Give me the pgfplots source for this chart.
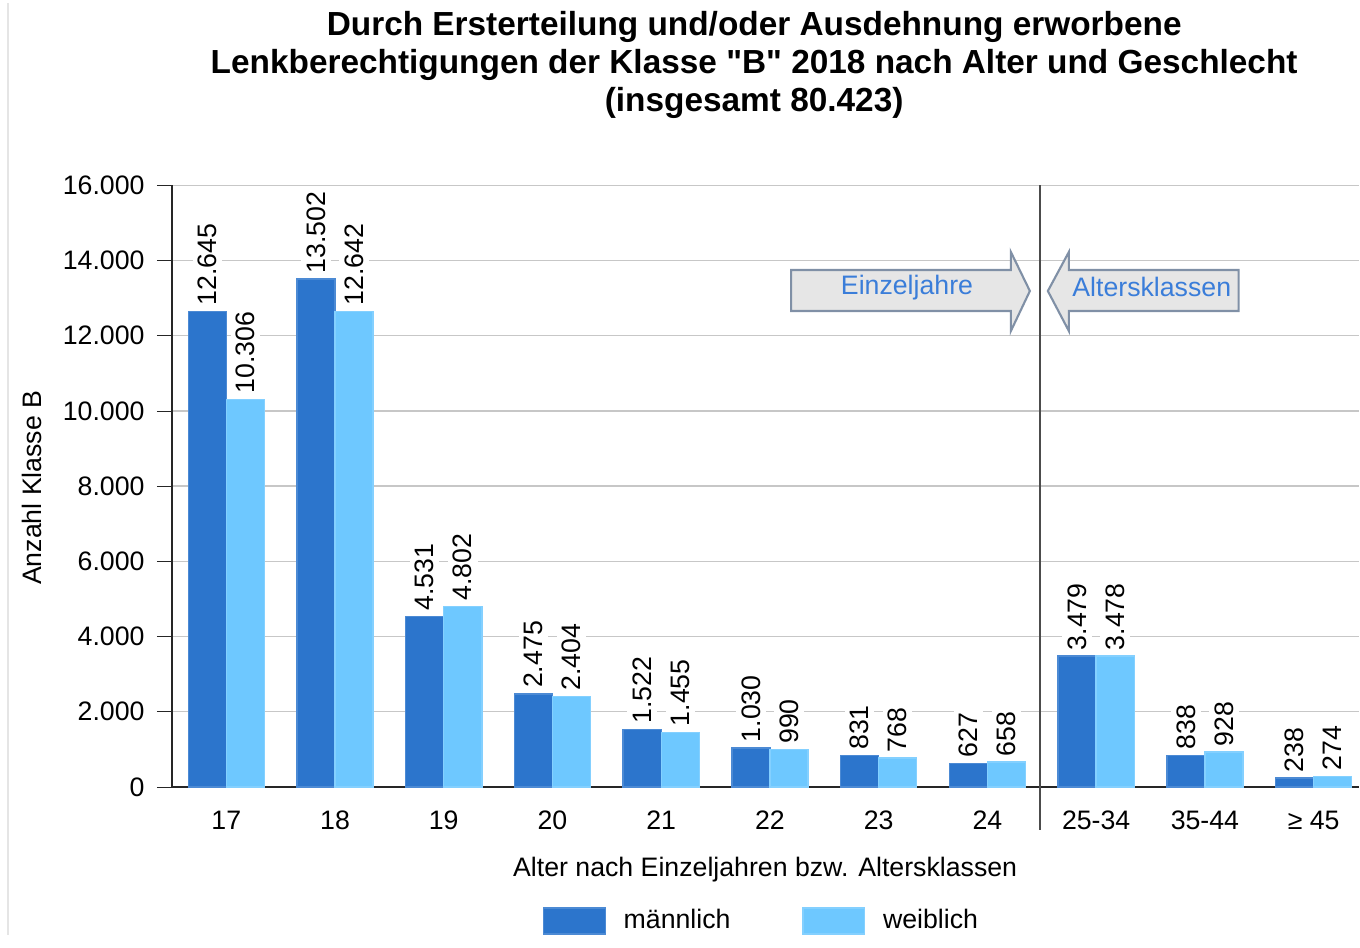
\documentclass[border=0pt]{standalone}
\usepackage{fontspec}
\setmainfont{Liberation Sans}
\newfontfamily\qf{Liberation Sans}
\usepackage{pgfplots}
\pgfplotsset{compat=1.18}
\definecolor{mblue}{RGB}{44,117,204}
\definecolor{wblue}{RGB}{110,200,255}
\definecolor{arrfill}{RGB}{230,230,230}
\definecolor{arrdraw}{RGB}{128,144,166}
\definecolor{arrtext}{RGB}{58,125,217}
\newcommand{\tf}{\fontsize{7.6}{9}\selectfont}

\begin{document}
\begin{tikzpicture}
% pixel frame of the reference (1360 x 933), origin of axis box at (172,784)
\begin{scope}[x=0.01cm, y=-0.01cm, shift={(-1.72cm,7.84cm)}]
  \path[use as bounding box] (0,0) rectangle (1360,933);
\end{scope}

\begin{axis}[
    at={(0,0)}, anchor=south west,
    scale only axis,
    width=11.88cm, height=6.02cm,
    ybar=0pt,
    bar width=0.35,
    xmin=-0.5, xmax=10.42,
    ymin=0, ymax=16000,
    enlargelimits=false,
    clip=false,
    axis x line*=bottom,
    axis y line*=left,
    axis line style={black!85, -},
    xtick={0,...,10},
    xticklabels={17,18,19,20,21,22,23,24,25-34,35-44,≥ 45},
    ytick={0,2000,...,16000},
    scaled y ticks=false,
    yticklabel style={/pgf/number format/.cd, fixed, precision=0, 1000 sep={.}, assume math mode=true},
    xticklabel style={yshift=0.03cm},
    x tick style={draw=none},
    y tick style={black!85},
    tick align=outside,
    major tick length=0.15cm,
    tick label style={font=\tf},
    ymajorgrids,
    grid style={black!22},
    nodes near coords={\pgfmathprintnumber[fixed,precision=0,1000 sep={.},assume math mode=true]{\pgfplotspointmeta}},
    every node near coord/.append style={font=\tf, rotate=90, anchor=west, fill=white, inner sep=1.5pt},
    legend columns=2,
    legend style={at={(0.503,-0.223)}, anchor=center, draw=none, font=\tf,
      /tikz/every even column/.append style={column sep=0.54cm},
      nodes={inner xsep=5pt}},
    legend image code/.code={\fill[#1] (0cm,-0.13cm) rectangle (0.62cm,0.13cm);},
]
\addplot[fill=mblue, draw=mblue!85!white] coordinates {
  (0,12645) (1,13502) (2,4531) (3,2475) (4,1522) (5,1030) (6,831) (7,627) (8,3479) (9,838) (10,238)};
\addlegendentry{männlich}
\addplot[fill=wblue, draw=wblue!85!white] coordinates {
  (0,10306) (1,12642) (2,4802) (3,2404) (4,1455) (5,990) (6,768) (7,658) (8,3478) (9,928) (10,274)};
\addlegendentry{weiblich}
\end{axis}

\begin{scope}[x=0.01cm, y=-0.01cm, shift={(-1.72cm,7.84cm)}]
  % faint frame line on the left
  \draw[black!10] (8,0) -- (8,933);
  % separator between single years and age classes
  \draw[black!70] (1041,182) -- (1041,828);
  % block arrows
  \filldraw[fill=arrfill, draw=arrdraw, line width=0.6pt]
    (792,267) -- (1012,267) -- (1012,249) -- (1031,288) -- (1012,328) -- (1012,308) -- (792,308) -- cycle;
  \filldraw[fill=arrfill, draw=arrdraw, line width=0.6pt]
    (1240,267) -- (1070,267) -- (1070,249) -- (1049,288) -- (1070,328) -- (1070,308) -- (1240,308) -- cycle;
  \node[font=\tf, text=arrtext] at (908,285) {Einzeljahre};
  \node[font=\tf, text=arrtext] at (1153,284) {Altersklassen};
  % title
  \node[font=\bfseries\fontsize{9.5}{10.8}\selectfont, align=center] at (755,62)
    {Durch Ersterteilung und/oder Ausdehnung erworbene\\
     Lenkberechtigungen der Klasse {\qf"}B{\qf"} 2018 nach Alter und Geschlecht\\
     (insgesamt 80.423)};
  % axis labels
  \node[font=\tf, rotate=90] at (32,485) {Anzahl Klasse B};
  \node[font=\tf] at (766,867) {Alter nach Einzeljahren bzw. Altersklassen};
\end{scope}
\end{tikzpicture}
\end{document}
